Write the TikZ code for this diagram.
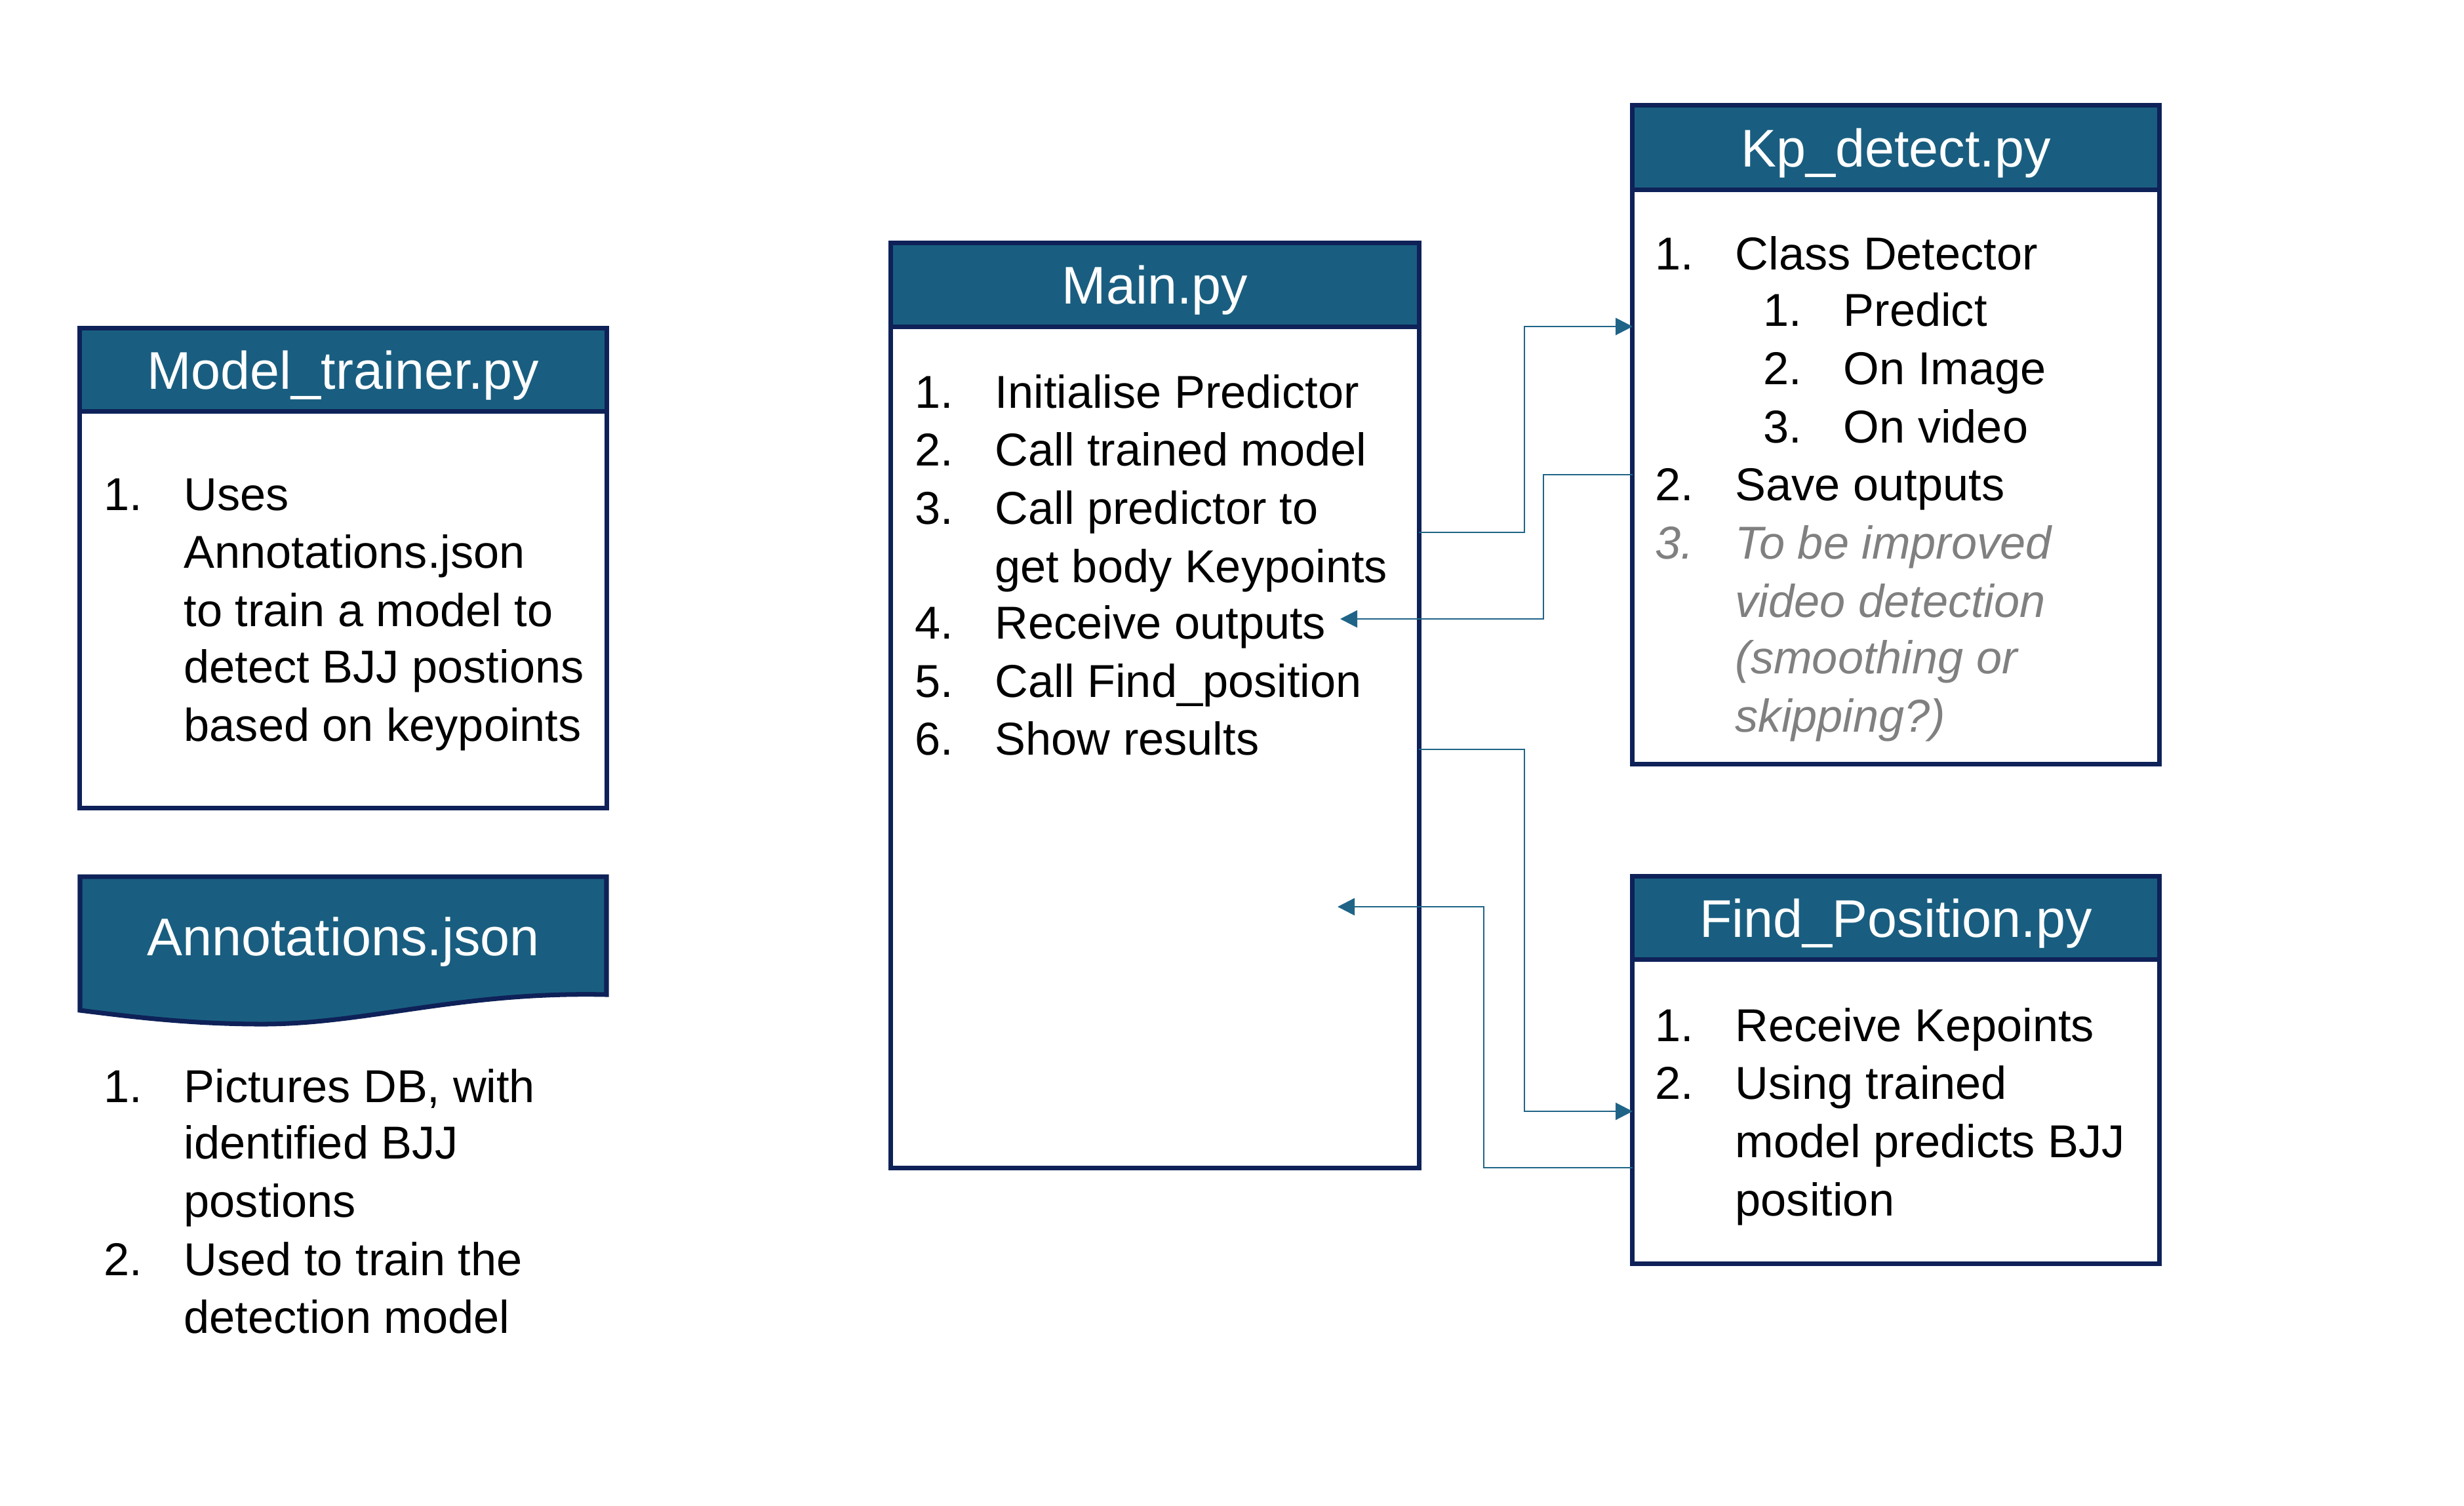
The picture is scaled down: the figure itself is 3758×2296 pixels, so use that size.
\documentclass[tikz,border=0pt]{standalone}
\usepackage{fontspec}
\setmainfont{Liberation Sans}
\usetikzlibrary{positioning,arrows.meta}
\definecolor{hdrblue}{RGB}{25,94,128}
\definecolor{navy}{RGB}{14,33,88}
\definecolor{flowblue}{RGB}{31,100,135}
\definecolor{notegray}{RGB}{128,128,128}

\begin{document}
\begin{tikzpicture}[x=0.01cm, y=-0.01cm,
    bodybox/.style={draw=navy, line width=2pt, fill=white},
    headbox/.style={draw=navy, line width=2pt, fill=hdrblue, text=white,
      font=\fontsize{23}{27}\selectfont, text height=16.5pt, text depth=0pt, inner sep=0pt},
    itemtxt/.style={anchor=base west, inner sep=0pt, font=\fontsize{20}{24}\selectfont},
    noteitem/.style={itemtxt, text=notegray, font=\fontsize{20}{24}\selectfont\itshape},
    flow/.style={draw=flowblue, line width=0.8pt, -{Triangle[length=0.26cm, width=0.26cm]}}
  ]
  \useasboundingbox (0,0) rectangle (3758,2296);

  % Model_trainer.py
  \node[bodybox, minimum width=8.03cm, minimum height=7.31cm] (mtbox) at (523.5,866.5) {};
  \node[headbox, minimum width=8.03cm, minimum height=1.27cm, anchor=north] (mthead) at (mtbox.north) {Model\_trainer.py};
  \foreach \y/\n/\t [count=\i] in {778/1./Uses, 866//Annotations.json, 955//to train a model to,
      1041//detect BJJ postions, 1130//based on keypoints} {
    \node[itemtxt] (mt-n\i) at (158,\y) {\n};
    \node[itemtxt] (mt-\i) at (280,\y) {\t};
  }

  % Annotations.json
  \draw[draw=navy, line width=2pt, fill=hdrblue] (122,1337) -- (925,1337) -- (925,1517)
    .. controls (700,1512) and (560,1562) .. (400,1562)
    .. controls (280,1562) and (180,1548) .. (122,1541) -- cycle;
  \node[text=white, font=\fontsize{23}{27}\selectfont, text height=16.5pt, text depth=0pt, inner sep=0pt] (anhead) at (523.5,1428) {Annotations.json};
  \foreach \y/\n/\t [count=\i] in {1681/1./{Pictures DB, with}, 1767//identified BJJ, 1856//postions,
      1945/2./Used to train the, 2033//detection model} {
    \node[itemtxt] (an-n\i) at (158,\y) {\n};
    \node[itemtxt] (an-\i) at (280,\y) {\t};
  }

  % Main.py
  \node[bodybox, minimum width=8.05cm, minimum height=14.10cm] (mainbox) at (1761.5,1076) {};
  \node[headbox, minimum width=8.05cm, minimum height=1.28cm, anchor=north] (mainhead) at (mainbox.north) {Main.py};
  \foreach \y/\n/\t [count=\i] in {622/1./Initialise Predictor, 710/2./Call trained model,
      799/3./Call predictor to, 888//get body Keypoints, 974/4./Receive outputs,
      1063/5./Call Find\_position, 1151/6./Show results} {
    \node[itemtxt] (main-n\i) at (1395,\y) {\n};
    \node[itemtxt] (main-\i) at (1517,\y) {\t};
  }

  % Kp_detect.py
  \node[bodybox, minimum width=8.03cm, minimum height=10.04cm] (kpbox) at (2891.5,663) {};
  \node[headbox, minimum width=8.03cm, minimum height=1.29cm, anchor=north] (kphead) at (kpbox.north) {Kp\_detect.py};
  \node[itemtxt] (kp-n1) at (2524,411) {1.};
  \node[itemtxt] (kp-1) at (2646,411) {Class Detector};
  \foreach \y/\n/\t [count=\i] in {497/1./Predict, 586/2./On Image, 675/3./On video} {
    \node[itemtxt] (kps-n\i) at (2689,\y) {\n};
    \node[itemtxt] (kps-\i) at (2811,\y) {\t};
  }
  \node[itemtxt] (kp-n2) at (2524,763) {2.};
  \node[itemtxt] (kp-2) at (2646,763) {Save outputs};
  \node[noteitem] (kp-n3) at (2524,852) {3.};
  \foreach \y/\t [count=\i] in {852/To be improved, 941/video detection, 1027/(smoothing or, 1116/skipping?)} {
    \node[noteitem] (kpnote-\i) at (2646,\y) {\t};
  }

  % Find_Position.py
  \node[bodybox, minimum width=8.03cm, minimum height=5.90cm] (fpbox) at (2891.5,1632) {};
  \node[headbox, minimum width=8.03cm, minimum height=1.27cm, anchor=north] (fphead) at (fpbox.north) {Find\_Position.py};
  \foreach \y/\n/\t [count=\i] in {1588/1./Receive Kepoints, 1676/2./Using trained,
      1765//model predicts BJJ, 1854//position} {
    \node[itemtxt] (fp-n\i) at (2524,\y) {\n};
    \node[itemtxt] (fp-\i) at (2646,\y) {\t};
  }

  % ports
  \coordinate (mainout1) at (2164,812);
  \coordinate (mainout2) at (2164,1143);
  \coordinate (recv1) at (2044,944);
  \coordinate (recv2) at (2040,1383);
  \coordinate (kpin) at (2490,498);
  \coordinate (kpout) at (2490,724);
  \coordinate (fpin) at (2490,1695);
  \coordinate (fpout) at (2490,1781);

  % connectors
  \draw[flow] (mainout1) -- ++(161,0) |- (kpin);
  \draw[flow] (kpout) -- ++(-136,0) |- (recv1);
  \draw[flow] (mainout2) -- ++(161,0) |- (fpin);
  \draw[flow] (fpout) -- ++(-227,0) |- (recv2);

\end{tikzpicture}
\end{document}
